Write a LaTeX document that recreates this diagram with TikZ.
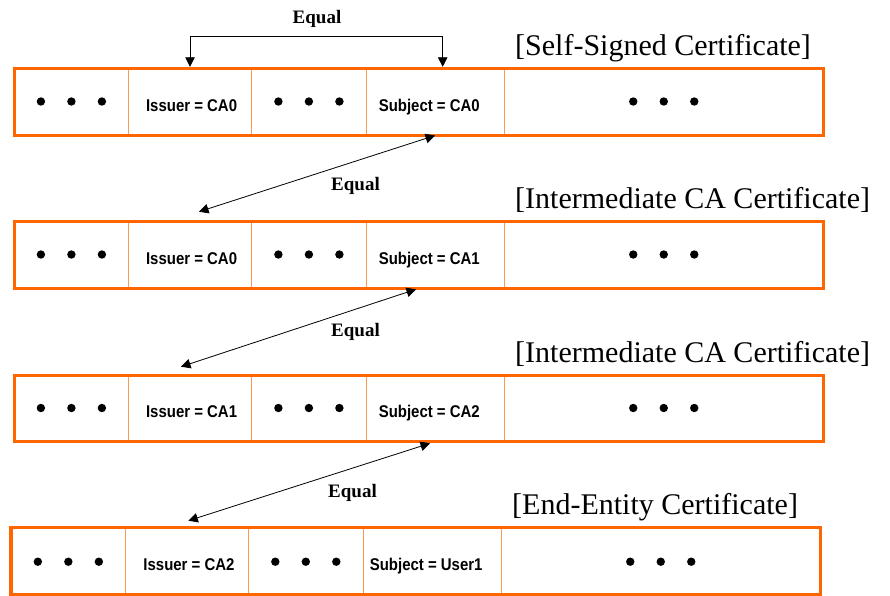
\documentclass[tikz,border=0pt]{standalone}
\usepackage{fontspec}
\setmainfont{Liberation Serif}
\setsansfont{Liberation Sans}
\newfontfamily\cellfont[FakeStretch=0.88]{Liberation Sans}
\usetikzlibrary{arrows.meta,calc}
\definecolor{certorange}{HTML}{FF6600}
\definecolor{cellline}{HTML}{FF9A50}
\begin{document}
\begin{tikzpicture}[x=1pt,y=-1pt,
  outerbox/.style={draw=certorange,line width=3.5pt},
  divider/.style={draw=cellline,line width=1pt},
  celltext/.style={anchor=base,inner sep=0pt,font=\cellfont\bfseries\fontsize{17}{17}\selectfont},
  titletext/.style={anchor=base west,inner sep=0pt,font=\fontsize{30}{30}\selectfont},
  eqtext/.style={inner sep=0pt,font=\bfseries\fontsize{19}{19}\selectfont},
  eqarrow/.style={draw=black,line width=0.8pt,{Triangle[length=9.5pt,width=9.5pt]}-{Triangle[length=9.5pt,width=9.5pt]}},
  dot/.style={fill=black}]
\useasboundingbox (0,0) rectangle (890,595);

% ---------- rows 1-3 ----------
\foreach \T/\B/\iss/\sub/\n in {68.5/135.5/CA0/CA0/1, 221.5/288.5/CA0/CA1/2, 375.3/441.7/CA1/CA2/3}{
  \pgfmathsetmacro{\C}{(\T+\B)/2}
  \draw[divider] (128.3,\T) -- (128.3,\B);
  \draw[divider] (251,\T) -- (251,\B);
  \draw[divider] (366.7,\T) -- (366.7,\B);
  \draw[divider] (504,\T) -- (504,\B);
  \draw[outerbox] (14.5,\T) rectangle (823.5,\B);
  \foreach \dx in {-30.5,0,30.5}{
    \fill[dot] (71.4+\dx,\C-0.5) circle (4.2);
    \fill[dot] (308.9+\dx,\C-0.5) circle (4.2);
    \fill[dot] (663.75+\dx,\C-0.5) circle (4.2);
  }
  \node[celltext] (iss\n) at (191.6,\C+9) {Issuer = \iss};
  \node[celltext] (sub\n) at (429.3,\C+9) {Subject = \sub};
}

% ---------- row 4 ----------
\def\T{527.7}\def\B{594.7}
\pgfmathsetmacro{\C}{(\T+\B)/2}
\draw[divider] (125.7,\T) -- (125.7,\B);
\draw[divider] (248.3,\T) -- (248.3,\B);
\draw[divider] (363.3,\T) -- (363.3,\B);
\draw[divider] (501,\T) -- (501,\B);
\draw[outerbox] (11,\T) rectangle (820.5,\B);
\foreach \dx in {-30.5,0,30.5}{
  \fill[dot] (68.35+\dx,\C+0.5) circle (4.2);
  \fill[dot] (305.8+\dx,\C+0.5) circle (4.2);
  \fill[dot] (660.75+\dx,\C+0.5) circle (4.2);
}
\node[celltext] (iss4) at (189,\C+9) {Issuer = CA2};
\node[celltext] (sub4) at (426.2,\C+9) {Subject = User1};

% ---------- titles ----------
\node[titletext] (t1) at (515,55) {[Self-Signed Certificate]};
\node[titletext] (t2) at (515,208) {[Intermediate CA Certificate]};
\node[titletext] (t3) at (515,362) {[Intermediate CA Certificate]};
\node[titletext] (t4) at (512,514) {[End-Entity Certificate]};

% ---------- Equal labels ----------
\node[eqtext] (eq0) at (317,18.5) {Equal};
\node[eqtext] (eq1) at (355.5,186) {Equal};
\node[eqtext] (eq2) at (355.5,331.5) {Equal};
\node[eqtext] (eq3) at (352.5,493) {Equal};

% ---------- arrow end points ----------
\coordinate (a0l) at (190,66.8);
\coordinate (a0r) at (442.7,66.8);
\coordinate (a0c) at (442.7,36.7);
\coordinate (a1t) at (435,135.5);
\coordinate (a1b) at (199,211.7);
\coordinate (a2t) at (416,289.3);
\coordinate (a2b) at (181,366.7);
\coordinate (a3t) at (430,443.3);
\coordinate (a3b) at (188.3,520.7);

% ---------- connectors ----------
\draw[eqarrow] (a0l) |- (a0c) -- (a0r);
\draw[eqarrow] (a1t) -- (a1b);
\draw[eqarrow] (a2t) -- (a2b);
\draw[eqarrow] (a3t) -- (a3b);
\end{tikzpicture}
\end{document}
